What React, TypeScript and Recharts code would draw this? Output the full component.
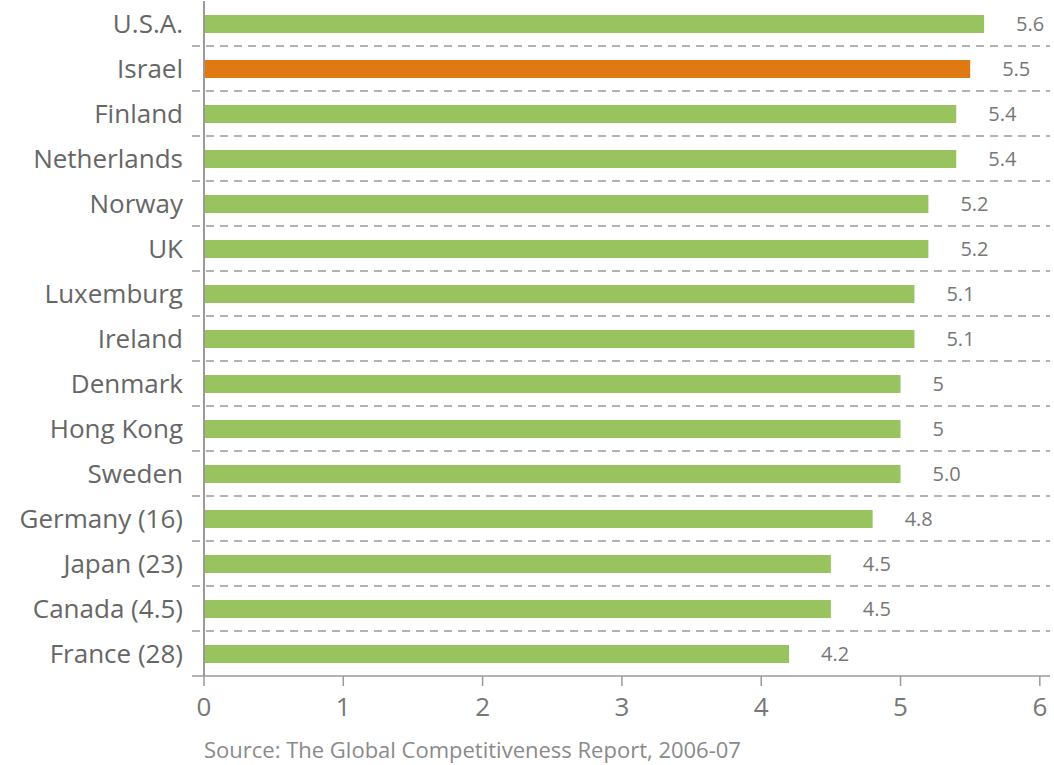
import { BarChart, Bar, XAxis, YAxis, Cell, LabelList, ReferenceLine } from "recharts"

const countries = [
  "U.S.A.", "Israel", "Finland", "Netherlands", "Norway", "UK", "Luxemburg", "Ireland",
  "Denmark", "Hong Kong", "Sweden", "Germany (16)", "Japan (23)", "Canada (4.5)", "France (28)",
]
const scores = [5.6, 5.5, 5.4, 5.4, 5.2, 5.2, 5.1, 5.1, 5, 5, 5.0, 4.8, 4.5, 4.5, 4.2]
const scoreLabels = ["5.6", "5.5", "5.4", "5.4", "5.2", "5.2", "5.1", "5.1", "5", "5", "5.0", "4.8", "4.5", "4.5", "4.2"]
const xTicks = [0, 1, 2, 3, 4, 5, 6]
const highlighted = "Israel"

const GREEN = "#98c35e"
const ORANGE = "#df7a12"
const FONT = "'Open Sans', sans-serif"

export default function App() {
  const data = countries.map((name, i) => ({ name, score: scores[i], label: scoreLabels[i] }))

  return (
    <div style={{ position: "absolute", left: 0, top: 0, width: 1054, height: 765, background: "#fff", fontFamily: FONT }}>
      <BarChart
        width={1054}
        height={765}
        data={data}
        layout="vertical"
        margin={{ top: 1, right: 4, bottom: 49, left: 0 }}
      >
        <XAxis
          type="number"
          domain={[-0.086, 6.073]}
          allowDataOverflow
          ticks={xTicks}
          height={40}
          stroke="#9a9a9a"
          strokeWidth={1.5}
          tickSize={10}
          tickMargin={12}
          tick={{ fill: "#777", fontSize: 26, fontFamily: FONT }}
        />
        <YAxis
          type="category"
          dataKey="name"
          width={192}
          axisLine={false}
          tickLine={false}
          tickMargin={3}
          interval={0}
          tick={{ fill: "#666", fontSize: 26, fontFamily: FONT }}
        />
        {/* dashed separators at the top edge of every row after the first */}
        {countries.slice(1).map((c) => (
          <ReferenceLine key={c} y={c} position="start" stroke="#9b9b9b" strokeWidth={1.5} strokeDasharray="8 6" />
        ))}
        <ReferenceLine x={0} stroke="#9a9a9a" strokeWidth={2} />
        <Bar dataKey="score" barSize={18} isAnimationActive={false}>
          {data.map((d) => (
            <Cell key={d.name} fill={d.name === highlighted ? ORANGE : GREEN} />
          ))}
          <LabelList dataKey="label" position="right" offset={32} fill="#777" fontSize={20} fontFamily={FONT} />
        </Bar>
      </BarChart>
      <div style={{ position: "absolute", left: 204, top: 734, fontSize: 22, lineHeight: "30px", color: "#8a8a8a" }}>
        Source: The Global Competitiveness Report, 2006-07
      </div>
    </div>
  )
}
